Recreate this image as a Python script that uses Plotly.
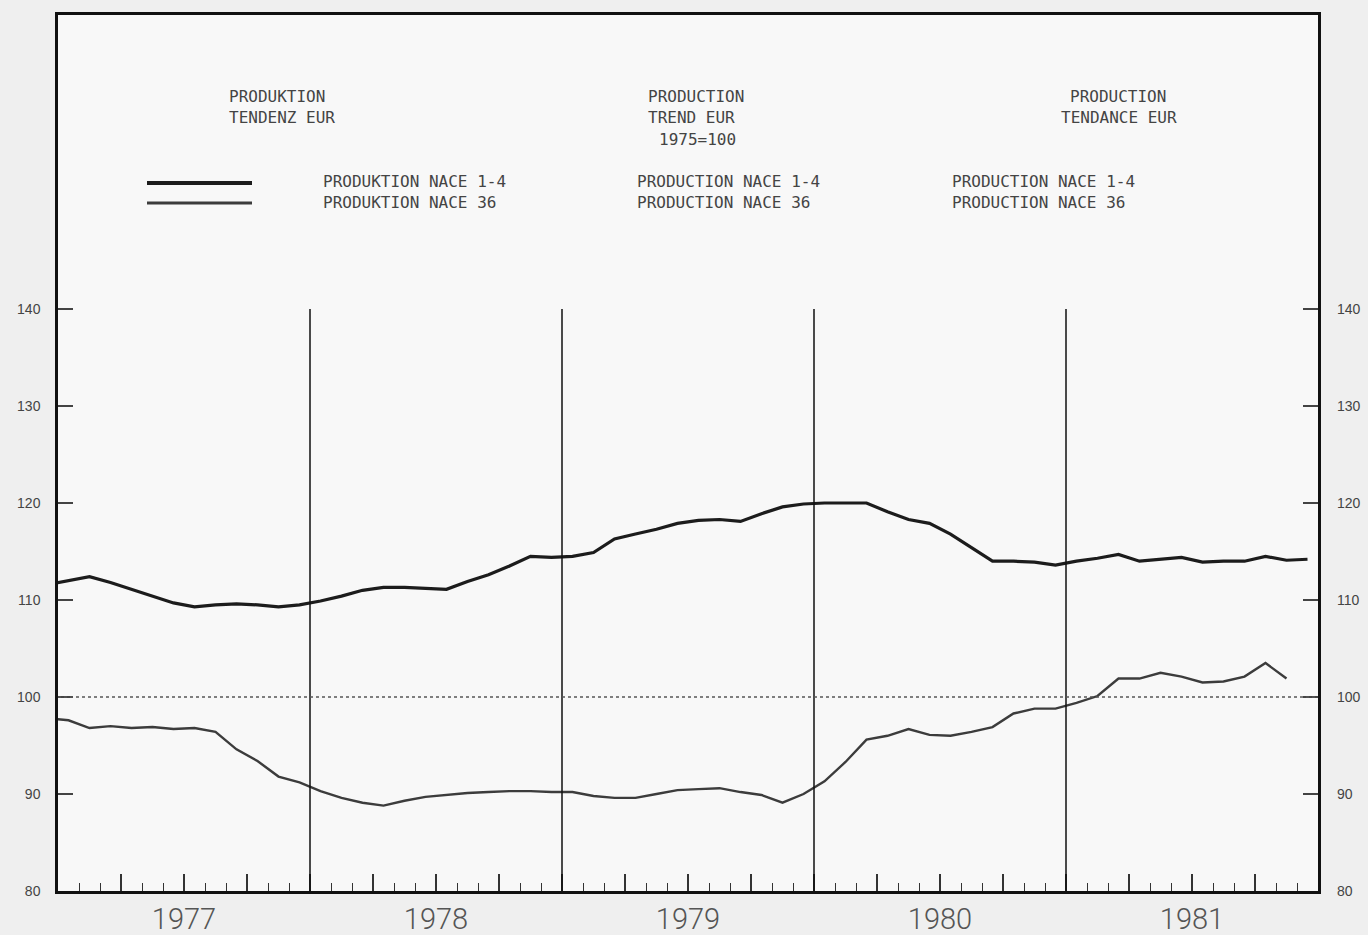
import plotly.graph_objects as go

# ---------------- data ----------------
months_1 = ["1976-12"] + [f"{y}-{m:02d}" for y in range(1977, 1982) for m in range(1, 13)]

nace_1_4 = [
    111.6, 112.0, 112.4, 111.8, 111.1, 110.4, 109.7, 109.3, 109.5, 109.6, 109.5, 109.3, 109.5,
    109.9, 110.4, 111.0, 111.3, 111.3, 111.2, 111.1, 111.9, 112.6, 113.5, 114.5, 114.4,
    114.5, 114.9, 116.3, 116.8, 117.3, 117.9, 118.2, 118.3, 118.1, 118.9, 119.6, 119.9,
    120.0, 120.0, 120.0, 119.1, 118.3, 117.9, 116.8, 115.4, 114.0, 114.0, 113.9, 113.6,
    114.0, 114.3, 114.7, 114.0, 114.2, 114.4, 113.9, 114.0, 114.0, 114.5, 114.1, 114.2,
]

nace_36 = [
    97.8, 97.6, 96.8, 97.0, 96.8, 96.9, 96.7, 96.8, 96.4, 94.6, 93.4, 91.8, 91.2,
    90.3, 89.6, 89.1, 88.8, 89.3, 89.7, 89.9, 90.1, 90.2, 90.3, 90.3, 90.2,
    90.2, 89.8, 89.6, 89.6, 90.0, 90.4, 90.5, 90.6, 90.2, 89.9, 89.1, 90.0,
    91.3, 93.3, 95.6, 96.0, 96.7, 96.1, 96.0, 96.4, 96.9, 98.3, 98.8, 98.8,
    99.4, 100.1, 101.9, 101.9, 102.5, 102.1, 101.5, 101.6, 102.1, 103.5, 101.9,
]
months_2 = months_1[:len(nace_36)]

years = [1977, 1978, 1979, 1980, 1981]
y_ticks = [80, 90, 100, 110, 120, 130, 140]


def mid_month(label):
    y, m = label.split("-")
    return int(y) + (int(m) - 0.5) / 12.0


x1 = [mid_month(m) for m in months_1]
x2 = [mid_month(m) for m in months_2]

# ---------------- figure ----------------
W, H = 1368, 935
L, R, T, B = 58, 50, 15, 44
PW, PH = W - L - R, H - T - B


def px(x):
    return (x - L) / PW


def py(y):
    return (H - B - y) / PH


fig = go.Figure()
fig.add_trace(go.Scatter(x=x1, y=nace_1_4, mode="lines", name="NACE 1-4",
                         line=dict(color="#1c1c1c", width=3.2), showlegend=False))
fig.add_trace(go.Scatter(x=x2, y=nace_36, mode="lines", name="NACE 36",
                         line=dict(color="#3c3c3c", width=2.4), showlegend=False))
fig.add_trace(go.Scatter(x=[years[0]], y=[y_ticks[0]], yaxis="y2", mode="markers",
                         marker=dict(opacity=0), showlegend=False, hoverinfo="skip"))

x0, x_end = years[0], years[-1] + 1
quarters = [years[0] + q / 4 for q in range(1, 4 * len(years))]
qtext = [str(int(q)) if abs(q - int(q) - 0.5) < 1e-9 else "" for q in quarters]

shapes = []
for yr in years[1:]:
    shapes.append(dict(type="line", xref="x", yref="y", x0=yr, x1=yr, y0=80, y1=140,
                       line=dict(color="#111", width=1.5)))
shapes.append(dict(type="line", xref="x", yref="y", x0=x0, x1=x_end, y0=100, y1=100,
                   line=dict(color="#555", width=1.5, dash="dot")))
shapes.append(dict(type="line", xref="paper", yref="paper", x0=px(147), x1=px(252),
                   y0=py(183), y1=py(183), line=dict(color="#1c1c1c", width=4)))
shapes.append(dict(type="line", xref="paper", yref="paper", x0=px(147), x1=px(252),
                   y0=py(203), y1=py(203), line=dict(color="#3c3c3c", width=3)))

FONT = "DejaVu Sans Mono"
TCOL = "#444"
texts = [
    ("PRODUKTION", 227, 96, "left"),
    ("TENDENZ EUR", 227, 117, "left"),
    ("PRODUCTION", 646, 97, "left"),
    ("TREND EUR", 646, 118, "left"),
    ("1975=100", 657, 139, "left"),
    ("PRODUCTION", 1118, 97, "center"),
    ("TENDANCE EUR", 1119, 118, "center"),
    ("PRODUKTION NACE 1-4", 321, 181, "left"),
    ("PRODUKTION NACE 36", 321, 202, "left"),
    ("PRODUCTION NACE 1-4", 635, 181, "left"),
    ("PRODUCTION NACE 36", 635, 202, "left"),
    ("PRODUCTION NACE 1-4", 950, 181, "left"),
    ("PRODUCTION NACE 36", 950, 202, "left"),
]
annotations = [
    dict(text=t, x=px(xx), y=py(yy), xref="paper", yref="paper", xanchor=anc,
         yanchor="middle", showarrow=False, font=dict(family=FONT, size=16, color=TCOL))
    for t, xx, yy, anc in texts
]

yrange = [80, 80 + PH / 9.7]

fig.update_layout(
    width=W, height=H,
    margin=dict(l=L, r=R, t=T, b=B, autoexpand=False),
    paper_bgcolor="#efefef",
    plot_bgcolor="#f8f8f8",
    shapes=shapes,
    annotations=annotations,
    xaxis=dict(
        range=[x0, x_end], showgrid=False, zeroline=False, automargin=False,
        showline=True, linecolor="#111", linewidth=2.5, mirror=True,
        tickmode="array", tickvals=quarters, ticktext=qtext,
        ticks="inside", ticklen=17, tickwidth=1.5, tickcolor="#333",
        tickfont=dict(family="Roboto", size=29, color="#555", weight=300),
        ticklabelstandoff=0,
        minor=dict(dtick=1 / 12, tick0=x0, ticks="inside", ticklen=8, tickwidth=1.3,
                   tickcolor="#333", showgrid=False),
    ),
    yaxis=dict(
        range=yrange, showgrid=False, zeroline=False, automargin=False,
        showline=True, linecolor="#111", linewidth=2.5, mirror="ticks",
        tickmode="array", tickvals=y_ticks, ticktext=[str(v) for v in y_ticks],
        ticks="inside", ticklen=15, tickwidth=2, tickcolor="#444",
        tickfont=dict(family="Liberation Sans", size=14, color="#444"),
        ticklabelstandoff=12,
    ),
    yaxis2=dict(
        range=yrange, overlaying="y", side="right", showgrid=False, zeroline=False,
        automargin=False,
        showline=False, ticks="", tickmode="array", tickvals=y_ticks,
        ticktext=[str(v) for v in y_ticks],
        tickfont=dict(family="Liberation Sans", size=14, color="#444"),
        ticklabelstandoff=18,
    ),
)

fig.write_html(
    "out.html",
    config={"displayModeBar": False},
    post_script="document.body.style.margin='0';document.body.style.background='#efefef';",
)
